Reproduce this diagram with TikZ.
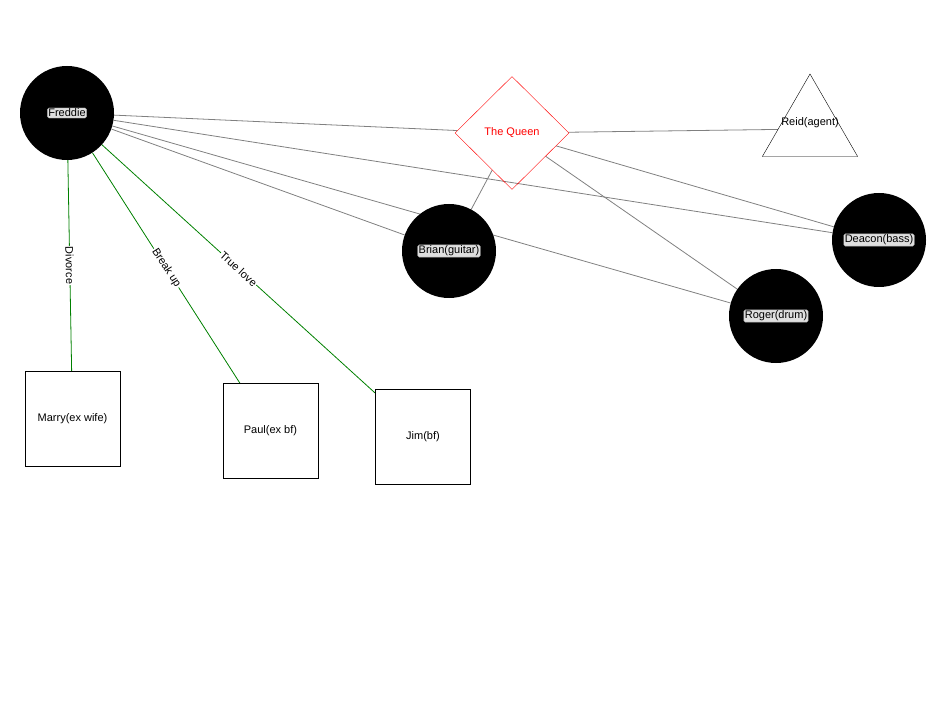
\documentclass[tikz,border=0pt]{standalone}
\usepackage{fontspec}
\setmainfont{Liberation Sans}
\usetikzlibrary{shapes.geometric,backgrounds}

\tikzset{
  member/.style={circle,fill=black,minimum size=94pt,inner sep=0pt,label={[tag]center:#1}},
  tag/.style={fill=gray!25,draw=gray!70,rounded corners=1.5pt,inner sep=1pt},
  partner/.style={draw,minimum size=95pt,inner sep=0pt},
  crew/.style={gray,line width=0.8pt},
  kin/.style={green!50!black,line width=0.8pt},
  edgetext/.style={fill=white,text=black,sloped,inner sep=1pt}
}

\begin{document}
\begin{tikzpicture}[x=1pt,y=-1pt,font=\fontsize{11}{13}\selectfont]
\useasboundingbox (0,0) rectangle (950,711);

% band
\node[member=Freddie] (fred) at (67,113) {};
\node[member=Brian(guitar)] (brian) at (449,251) {};
\node[member=Deacon(bass)] (deacon) at (879,240) {};
\node[member=Roger(drum)] (roger) at (776,316) {};
\node[diamond,draw=red,text=red,minimum width=114pt,minimum height=113pt,inner sep=0pt] (queen) at (512,133) {The Queen};
\node[regular polygon,regular polygon sides=3,draw,minimum size=110pt,inner sep=0pt,
      label={[yshift=6pt]center:Reid(agent)}] (reid) at (810,129) {};

% partners
\node[partner] (marry) at (72.5,418.5) {Marry(ex wife)};
\node[partner] (paul) at (270.5,431) {Paul(ex bf)};
\node[partner] (jim) at (423,436.5) {Jim(bf)};

\begin{scope}[on background layer]
\draw[crew] (fred) -- (queen);
\draw[crew] (fred) -- (deacon);
\draw[crew] (fred) -- (roger);
\draw[crew] (fred) -- (brian);
\draw[crew] (queen) -- (reid);
\draw[crew] (queen) -- (brian);
\draw[crew] (queen) -- (deacon);
\draw[crew] (queen) -- (roger);

\draw[kin] (fred) -- node[edgetext] {Divorce} (marry);
\draw[kin] (fred) -- node[edgetext] {Break up} (paul);
\draw[kin] (fred) -- node[edgetext] {True love} (jim);
\end{scope}
\end{tikzpicture}
\end{document}
